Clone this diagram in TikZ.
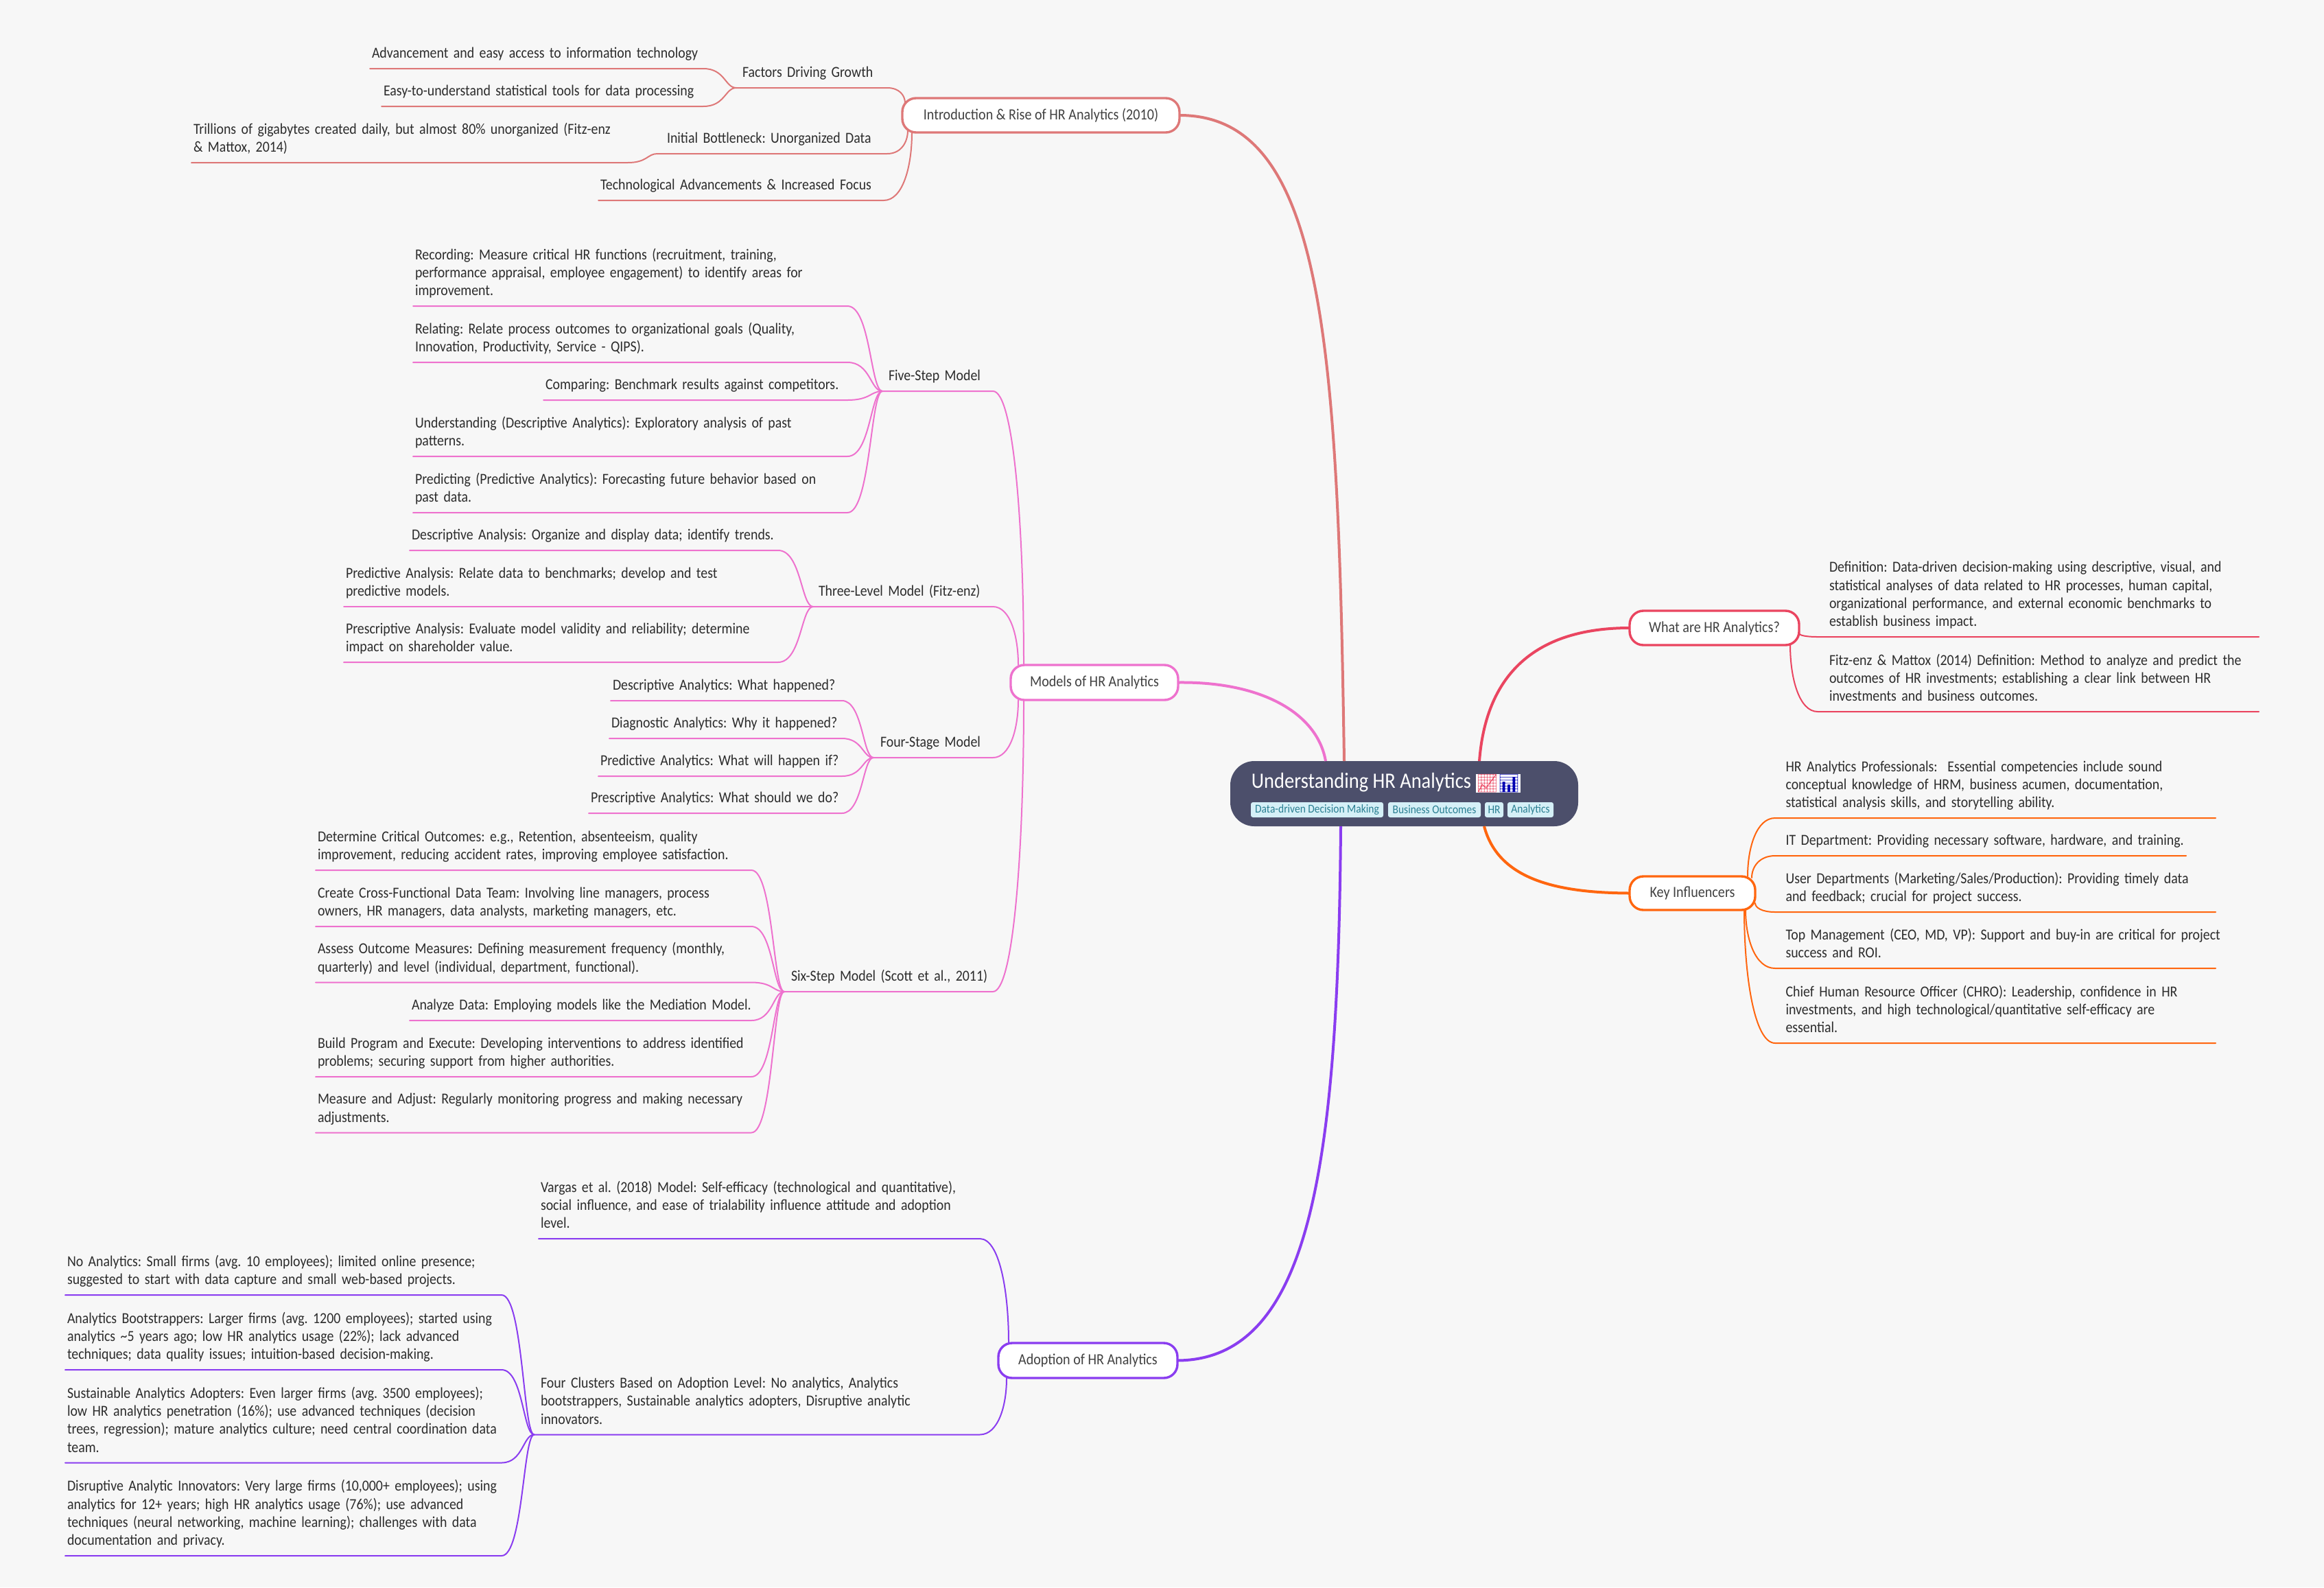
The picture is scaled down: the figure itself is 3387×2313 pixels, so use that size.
\documentclass[tikz,border=0pt]{standalone}
\usepackage{fontspec}
\setmainfont[FakeStretch=0.89]{Carlito}
\newfontfamily\emojifont{Noto Emoji}
\usetikzlibrary{calc}
\frenchspacing
\definecolor{bgc}{HTML}{F7F7F7}
\definecolor{rootc}{HTML}{4C4F6B}
\definecolor{tagc}{HTML}{D5F0F7}
\definecolor{tagt}{HTML}{2A7F92}
\definecolor{introc}{HTML}{DE7878}
\definecolor{modelc}{HTML}{EE72CE}
\definecolor{whatc}{HTML}{EA4560}
\definecolor{keyc}{HTML}{FF660F}
\definecolor{adoptc}{HTML}{8A3DF0}
\definecolor{txt}{HTML}{2C2C2C}
\tikzset{
  leaf/.style={inner sep=0pt,outer sep=0pt,align=left,text=txt,font=\fontsize{11.15}{13.2}\selectfont},
  lnk/.style={line width=1pt,line cap=round,line join=round},
  trunk/.style={line width=2pt,line cap=butt},
  hbox/.style={draw,fill=white,line width=1.7pt,rounded corners=10pt,inner sep=0pt,outer sep=0pt,text=txt!90,font=\fontsize{11.3}{13}\selectfont},
  tag/.style={fill=tagc,rounded corners=1.5pt,inner sep=0pt,outer sep=0pt,text=tagt,font=\fontsize{8.7}{10}\selectfont,minimum height=11pt},
}
\newcommand\leaf[6][3]{\pgfmathsetmacro\tw{(#4-#3)*.5}\node[leaf,text width=\tw pt,anchor=south west] (#2) at (#3,#5) {\leftskip=\dimexpr#1pt/2\relax\rightskip=-40pt plus 1fil\relax #6\rule[-7.6pt]{0pt}{7.6pt}\par};}
\newcommand\sib[2]{\draw[lnk,br] (#1.south west) -- (#1.south east) .. controls ($(#1.south east)!.66!(#1.south east -| #2.south west)$) and ($(#2.south west)!.34!(#2.south west -| #1.south east)$) .. (#2.south west);}
\newcommand\rise[2]{\coordinate (T) at #2;\draw[lnk,br] (#1.south west) -- (#1.south east) .. controls ($(#1.south east)!.68!(#1.south east -| T)$) and ($(T)!.5!(T |- #1.south east)$) .. (T);}
\newcommand\dropto[2]{\coordinate (T) at #2;\draw[lnk,br] (T) .. controls ($(T)!.5!(T |- #1.south west)$) and ($(#1.south west)!.67!(#1.south west -| T)$) .. (#1.south west) -- (#1.south east);}
\begin{document}
\begin{tikzpicture}[x=.5pt,y=-.5pt]
\useasboundingbox (0,0) rectangle (3387,2313);
\fill[bgc] (0,0) rectangle (3387,2313);
% boxes
\node[hbox,draw=whatc,minimum width=123.5pt,minimum height=25pt] (what) at (2498.5,915) {What are HR Analytics?};
\node[hbox,draw=keyc,minimum width=91.5pt,minimum height=24.5pt] (key) at (2466.5,1301.5) {Key Influencers};
\node[hbox,draw=introc,minimum width=202pt,minimum height=25pt] (intro) at (1517,168) {Introduction \& Rise of HR Analytics (2010)};
\node[hbox,draw=modelc,minimum width=122pt,minimum height=25.5pt] (models) at (1595,994.5) {Models of HR Analytics};
\node[hbox,draw=adoptc,minimum width=130.5pt,minimum height=25.5pt] (adopt) at (1585.5,1982.5) {Adoption of HR Analytics};
% root
\node[fill=rootc,rounded corners=17.5pt,minimum width=253.5pt,minimum height=47.5pt,inner sep=0pt,outer sep=0pt] (root) at (2046.5,1156.5) {};
\node[anchor=base west,inner sep=0pt,text=white,font=\fontsize{16}{18}\selectfont] (title) at (1823.5,1148) {Understanding HR Analytics};
\node[fill=white,inner sep=0pt,minimum width=14.5pt,minimum height=13.5pt,text=whatc,font=\emojifont\fontsize{13}{14}\selectfont] (emo1) at (2167.5,1141.5) {📈};
\node[fill=white,inner sep=0pt,minimum width=14.5pt,minimum height=13.5pt,text=blue!70!black,font=\emojifont\fontsize{13}{14}\selectfont] (emo2) at (2199,1141.5) {📊};
\node[tag,minimum width=96.5pt] (t1) at (1919.5,1180) {Data-driven Decision Making};
\node[tag,minimum width=67.5pt] (t2) at (2090.5,1180) {Business Outcomes};
\node[tag,minimum width=13.5pt] (t3) at (2177.5,1180) {HR};
\node[tag,minimum width=33.5pt] (t4) at (2230.5,1180) {Analytics};
% trunks
\draw[trunk,whatc] ($(root.north west)+(363,0)$) .. controls (2165,990) and (2230,915) .. (what.west);
\draw[trunk,keyc] ($(root.south west)+(370,0)$) .. controls (2183,1280) and (2265,1301) .. (key.west);
\draw[trunk,introc] ($(root.north west)+(166,0)$) .. controls (1950,500) and (1930,168) .. (intro.east);
\draw[trunk,modelc] ($(root.north west)+(139,0)$) .. controls (1920,1040) and (1840,993) .. (models.east);
\draw[trunk,adoptc] ($(root.south west)+(161,0)$) .. controls (1950,1700) and (1910,1981) .. (adopt.east);
% What
\begin{scope}
\colorlet{br}{whatc}
\leaf[17]{def}{2649}{3292}{928}{Definition: Data-driven decision-making using descriptive, visual, and\\statistical analyses of data related to HR processes, human capital,\\organizational performance, and external economic benchmarks to\\establish business impact.}
\leaf[17]{fitz}{2649}{3292}{1037}{Fitz-enz \& Mattox (2014) Definition: Method to analyze and predict the\\outcomes of HR investments; establishing a clear link between HR\\investments and business outcomes.}
\dropto{def}{($(what.north east)+(0,33)$)}
\dropto{fitz}{($(what.south east)+(-13,0)$)}
\end{scope}
% Key
\begin{scope}
\colorlet{br}{keyc}
\leaf[15.5]{pro}{2587}{3229}{1192}{HR Analytics Professionals:\ \ Essential competencies include sound\\conceptual knowledge of HRM, business acumen, documentation,\\statistical analysis skills, and storytelling ability.}
\leaf[15.5]{itd}{2587}{3186}{1247}{IT Department: Providing necessary software, hardware, and training.}
\leaf[15.5]{user}{2587}{3229}{1329}{User Departments (Marketing/Sales/Production): Providing timely data\\and feedback; crucial for project success.}
\leaf[15.5]{top}{2587}{3229}{1411}{Top Management (CEO, MD, VP): Support and buy-in are critical for project\\success and ROI.}
\leaf[15.5]{chro}{2587}{3229}{1520}{Chief Human Resource Officer (CHRO): Leadership, confidence in HR\\investments, and high technological/quantitative self-efficacy are\\essential.}
\dropto{pro}{($(key.north east)+(-11,0)$)}
\dropto{itd}{($(key.north east)+(-5,2)$)}
\dropto{user}{($(key.north east)+(0,39)$)}
\dropto{top}{($(key.south east)+(-14,0)$)}
\dropto{chro}{($(key.south east)+(-16,0)$)}
\end{scope}
% Intro
\begin{scope}
\colorlet{br}{introc}
\leaf[9]{factors}{1073}{1293}{128}{Factors Driving Growth}
\leaf[3]{adv}{539}{1025}{100}{Advancement and easy access to information technology}
\leaf[3]{easy}{556}{1025}{155}{Easy-to-understand statistical tools for data processing}
\leaf[14]{initial}{958}{1293}{224}{Initial Bottleneck: Unorganized Data}
\leaf[3]{tril}{279}{915}{237}{Trillions of gigabytes created daily, but almost 80\% unorganized (Fitz-enz\\\& Mattox, 2014)}
\leaf[3]{tech}{872}{1288}{292}{Technological Advancements \& Increased Focus}
\sib{adv}{factors}
\sib{easy}{factors}
\sib{tril}{initial}
\rise{factors}{($(intro.north west)+(4,7)$)}
\rise{initial}{($(intro.south west)+(8,-3)$)}
\rise{tech}{($(intro.south west)+(14,0)$)}
\end{scope}
% Models
\begin{scope}
\colorlet{br}{modelc}
\leaf[9]{five}{1286}{1447}{570}{Five-Step Model}
\leaf[8]{three}{1185}{1447}{884}{Three-Level Model (Fitz-enz)}
\leaf[10]{four}{1273}{1447}{1104}{Four-Stage Model}
\leaf[10]{six}{1143}{1447}{1445}{Six-Step Model (Scott et al., 2011)}
\leaf{rec}{602}{1235}{446}{Recording: Measure critical HR functions (recruitment, training,\\performance appraisal, employee engagement) to identify areas for\\improvement.}
\leaf{rel}{602}{1235}{528}{Relating: Relate process outcomes to organizational goals (Quality,\\Innovation, Productivity, Service - QIPS).}
\leaf{comp}{792}{1235}{583}{Comparing: Benchmark results against competitors.}
\leaf{und}{602}{1235}{665}{Understanding (Descriptive Analytics): Exploratory analysis of past\\patterns.}
\leaf{pred}{602}{1235}{747}{Predicting (Predictive Analytics): Forecasting future behavior based on\\past data.}
\leaf{desa}{597}{1134}{802}{Descriptive Analysis: Organize and display data; identify trends.}
\leaf{prea}{501}{1134}{884}{Predictive Analysis: Relate data to benchmarks; develop and test\\predictive models.}
\leaf{pres}{501}{1134}{965}{Prescriptive Analysis: Evaluate model validity and reliability; determine\\impact on shareholder value.}
\leaf{s1}{890}{1227}{1021}{Descriptive Analytics: What happened?}
\leaf{s2}{888}{1227}{1076}{Diagnostic Analytics: Why it happened?}
\leaf{s3}{872}{1227}{1131}{Predictive Analytics: What will happen if?}
\leaf{s4}{858}{1227}{1185}{Prescriptive Analytics: What should we do?}
\leaf{x1}{460}{1095}{1268}{Determine Critical Outcomes: e.g., Retention, absenteeism, quality\\improvement, reducing accident rates, improving employee satisfaction.}
\leaf{x2}{460}{1095}{1350}{Create Cross-Functional Data Team: Involving line managers, process\\owners, HR managers, data analysts, marketing managers, etc.}
\leaf{x3}{460}{1095}{1431.5}{Assess Outcome Measures: Defining measurement frequency (monthly,\\quarterly) and level (individual, department, functional).}
\leaf{x4}{597}{1095}{1487}{Analyze Data: Employing models like the Mediation Model.}
\leaf{x5}{460}{1095}{1569}{Build Program and Execute: Developing interventions to address identified\\problems; securing support from higher authorities.}
\leaf{x6}{460}{1095}{1650.5}{Measure and Adjust: Regularly monitoring progress and making necessary\\adjustments.}
\foreach \c in {rec,rel,comp,und,pred}{\sib{\c}{five}}
\foreach \c in {desa,prea,pres}{\sib{\c}{three}}
\foreach \c in {s1,s2,s3,s4}{\sib{\c}{four}}
\foreach \c in {x1,x2,x3,x4,x5,x6}{\sib{\c}{six}}
\rise{five}{($(models.north west)+(19,0)$)}
\rise{three}{($(models.north west)+(11,0)$)}
\rise{four}{($(models.south west)+(11,0)$)}
\rise{six}{($(models.south west)+(19,0)$)}
\end{scope}
% Adoption
\begin{scope}
\colorlet{br}{adoptc}
\leaf[3]{var}{785}{1428}{1805}{Vargas et al. (2018) Model: Self-efficacy (technological and quantitative),\\social influence, and ease of trialability influence attitude and adoption\\level.}
\leaf[9.5]{clus}{778.5}{1428}{2090.5}{Four Clusters Based on Adoption Level: No analytics, Analytics\\bootstrappers, Sustainable analytics adopters, Disruptive analytic\\innovators.}
\leaf{no}{95}{731}{1887}{No Analytics: Small firms (avg. 10 employees); limited online presence;\\suggested to start with data capture and small web-based projects.}
\leaf{boot}{95}{731}{1996}{Analytics Bootstrappers: Larger firms (avg. 1200 employees); started using\\analytics \textasciitilde 5 years ago; low HR analytics usage (22\%); lack advanced\\techniques; data quality issues; intuition-based decision-making.}
\leaf{sust}{95}{731}{2131.5}{Sustainable Analytics Adopters: Even larger firms (avg. 3500 employees);\\low HR analytics penetration (16\%); use advanced techniques (decision\\trees, regression); mature analytics culture; need central coordination data\\team.}
\leaf{disr}{95}{731}{2267}{Disruptive Analytic Innovators: Very large firms (10,000+ employees); using\\analytics for 12+ years; high HR analytics usage (76\%); use advanced\\techniques (neural networking, machine learning); challenges with data\\documentation and privacy.}
\foreach \c in {no,boot,sust,disr}{\sib{\c}{clus}}
\rise{var}{($(adopt.north west)+(15,0)$)}
\rise{clus}{($(adopt.south west)+(12,0)$)}
\end{scope}
\end{tikzpicture}
\end{document}
